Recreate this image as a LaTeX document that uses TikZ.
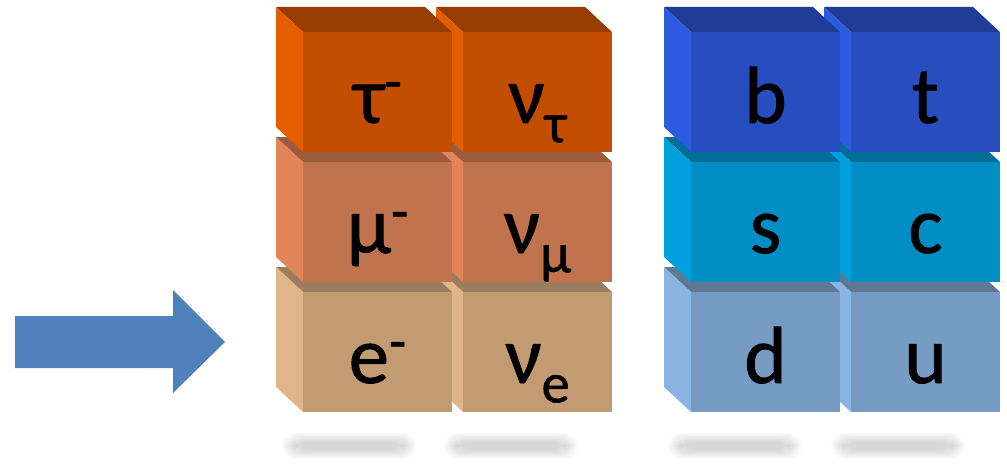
\documentclass[tikz,border=0pt]{standalone}
\usepackage{fontspec}
\setmainfont{Carlito}
\newfontfamily\lblfont{Carlito}[FakeBold=1]
\usepackage{xcolor}
\definecolor{taufront}{HTML}{C44E00}
\definecolor{tautop}{HTML}{983C00}
\definecolor{tauside}{HTML}{E45E00}
\definecolor{mufront}{HTML}{C1734E}
\definecolor{mutop}{HTML}{9B5C3E}
\definecolor{muside}{HTML}{E2835A}
\definecolor{elfront}{HTML}{C39B73}
\definecolor{eltop}{HTML}{9C7D5F}
\definecolor{elside}{HTML}{E0B589}
\definecolor{bqfront}{HTML}{284DC0}
\definecolor{bqtop}{HTML}{203C96}
\definecolor{bqside}{HTML}{2D5AE0}
\definecolor{sqfront}{HTML}{008EC4}
\definecolor{sqtop}{HTML}{006E96}
\definecolor{sqside}{HTML}{00A0DE}
\definecolor{dqfront}{HTML}{769CC4}
\definecolor{dqtop}{HTML}{5E7896}
\definecolor{dqside}{HTML}{8AB4E2}
\definecolor{arrowblue}{HTML}{4F81BD}
\usepackage{tikz}
\tikzset{
  lbl/.style={anchor=base, inner sep=0pt, font=\lblfont\fontsize{46}{50}\selectfont},
  blur/.style={fill=black, opacity=0.025, rounded corners=8pt},
}
\newcommand{\chg}{\raisebox{13pt}{\fontsize{32}{32}\selectfont -}}
\newcommand{\idx}[1]{\raisebox{-11pt}{\fontsize{32}{32}\selectfont #1}}
\newcommand{\brick}[5]{% name, x, y, colour, label
  \begin{scope}[shift={(#2,#3)}]
    \fill[#4top] (0,0) -- (-27,-25) -- (122,-25) -- (149,0) -- cycle;
    \fill[#4side] (0,0) -- (-27,-25) -- (-27,95) -- (0,120) -- cycle;
    \fill[#4front] (0,0) rectangle (149,120);
    \node[lbl] (#1) at (74.5,91) {#5};
  \end{scope}}

\begin{document}
\begin{tikzpicture}[x=0.02cm, y=-0.02cm]
  \useasboundingbox (0,0) rectangle (1007,466);
  % arrow
  \fill[arrowblue] (15,316) -- (173,316) -- (173,290) -- (225,342)
    -- (173,393) -- (173,368) -- (15,368) -- cycle;
  % soft shadows
  \foreach \cx in {349,511,735,898}
    \foreach \k in {0,...,6}
      \fill[blur] (\cx-55-2*\k, 442-1.5*\k) rectangle (\cx+55+2*\k, 450+1.5*\k);
  % leptons
  \brick{nue}{463}{292}{el}{ν\idx{e}}
  \brick{el}{303}{292}{el}{e\chg}
  \brick{numu}{463}{162}{mu}{ν\idx{μ}}
  \brick{mu}{303}{162}{mu}{μ\chg}
  \brick{nutau}{463}{32}{tau}{ν\idx{τ}}
  \brick{tau}{303}{32}{tau}{τ\chg}
  % quarks
  \brick{up}{851}{292}{dq}{u}
  \brick{down}{691}{292}{dq}{d}
  \brick{charm}{851}{162}{sq}{c}
  \brick{strange}{691}{162}{sq}{s}
  \brick{top}{851}{32}{bq}{t}
  \brick{bottom}{691}{32}{bq}{b}
\end{tikzpicture}
\end{document}
